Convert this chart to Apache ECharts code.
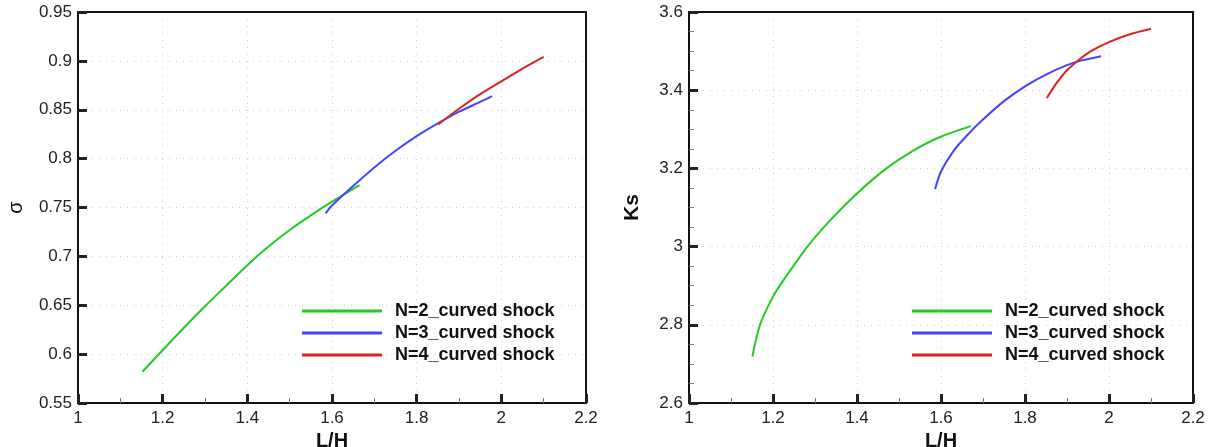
<!DOCTYPE html>
<html>
<head>
<meta charset="utf-8">
<script src="https://cdn.jsdelivr.net/npm/echarts@6/dist/echarts.min.js"></script>
<style>
html, body { margin: 0; padding: 0; background: #fff; }
#main { width: 1217px; height: 447px; }
</style>
</head>
<body>
<div id="main"></div>
<script>
// 图例名称
var seriesNames = ['N=2_curved shock', 'N=3_curved shock', 'N=4_curved shock'];
var seriesColors = ['#22cc22', '#4444ff', '#dd2222'];

// 左图 σ - L/H
var sigmaN2 = [[1.152, 0.582], [1.2, 0.604], [1.25, 0.627], [1.3, 0.649], [1.35, 0.670], [1.4, 0.691],
    [1.45, 0.710], [1.5, 0.727], [1.55, 0.742], [1.6, 0.756], [1.665, 0.773]];
var sigmaN3 = [[1.585, 0.744], [1.6, 0.752], [1.65, 0.772], [1.7, 0.791], [1.75, 0.808], [1.8, 0.823],
    [1.85, 0.836], [1.9, 0.848], [1.95, 0.858], [1.978, 0.864]];
var sigmaN4 = [[1.851, 0.835], [1.9, 0.851], [1.95, 0.866], [2.0, 0.879], [2.05, 0.892], [2.1, 0.904]];

// 右图 Ks - L/H
var ksN2 = [[1.151, 2.719], [1.169, 2.800], [1.2, 2.872], [1.225, 2.914], [1.282, 3.000], [1.336, 3.067],
    [1.4, 3.136], [1.47, 3.200], [1.53, 3.243], [1.595, 3.279], [1.671, 3.308]];
var ksN3 = [[1.586, 3.147], [1.6, 3.192], [1.63, 3.245], [1.666, 3.289], [1.7, 3.325], [1.75, 3.372],
    [1.8, 3.410], [1.85, 3.440], [1.9, 3.464], [1.931, 3.475], [1.981, 3.487]];
var ksN4 = [[1.852, 3.380], [1.875, 3.418], [1.9, 3.451], [1.931, 3.480], [1.957, 3.500], [2.0, 3.523],
    [2.05, 3.543], [2.1, 3.557]];

var chart = echarts.init(document.getElementById('main'));
var fontName = 'Liberation Sans';

function xAxisOf(idx) {
    return {
        gridIndex: idx, type: 'value', min: 1, max: 2.2, interval: 0.2,
        name: 'L/H', nameLocation: 'middle', nameGap: 25,
        nameTextStyle: { fontFamily: fontName, fontSize: 20, fontWeight: 'bold', color: '#111' },
        axisLine: { show: true, lineStyle: { color: '#111', width: 2 } },
        axisTick: { show: true, inside: true, length: 9, lineStyle: { color: '#222', width: 3 } },
        minorTick: { show: true, splitNumber: 2, length: 5, lineStyle: { color: '#777', width: 1 } },
        axisLabel: { fontFamily: fontName, fontSize: 17, color: '#222', margin: 7 },
        splitLine: { show: true, lineStyle: { color: '#ccc', type: [1, 6] } }
    };
}

function yAxisOf(idx, min, max, interval, name, nameStyle, gap, minor) {
    return {
        gridIndex: idx, type: 'value', min: min, max: max, interval: interval,
        name: name, nameLocation: 'middle', nameGap: gap, nameRotate: 90,
        nameTextStyle: nameStyle,
        axisLine: { show: true, lineStyle: { color: '#111', width: 2 } },
        axisTick: { show: true, inside: true, length: 9, lineStyle: { color: '#222', width: 3 } },
        minorTick: { show: minor, splitNumber: 4, length: 5, lineStyle: { color: '#777', width: 1 } },
        axisLabel: { fontFamily: fontName, fontSize: 17, color: '#222', margin: 6 },
        splitLine: { show: true, lineStyle: { color: '#ccc', type: [1, 6] } }
    };
}

// 上边框 / 右边框
function frameAxis(idx, pos, min, max) {
    return {
        gridIndex: idx, type: 'value', position: pos, min: min, max: max,
        axisLine: { show: true, onZero: false, lineStyle: { color: '#111', width: 2 } },
        axisTick: { show: false }, axisLabel: { show: false }, splitLine: { show: false }
    };
}

function lineOf(name, data, idx, color) {
    return {
        name: name, type: 'line', data: data, xAxisIndex: idx, yAxisIndex: idx,
        smooth: 0.3, showSymbol: false, symbol: 'none',
        lineStyle: { color: color, width: 2 }, itemStyle: { color: color }
    };
}

function legendOf(left) {
    return {
        data: seriesNames, orient: 'vertical', left: left, top: 297,
        icon: 'rect', itemWidth: 80, itemHeight: 3, itemGap: 4,
        textStyle: { fontFamily: fontName, fontSize: 18, fontWeight: 'bold', color: '#111',
            padding: [0, 0, 0, 8], lineHeight: 18 }
    };
}

var option = {
    animation: false,
    backgroundColor: '#fff',
    legend: [legendOf(297), legendOf(907)],
    grid: [
        { left: 78, top: 12, width: 508, height: 391, outerBoundsMode: 'none' },
        { left: 689, top: 12, width: 504, height: 391, outerBoundsMode: 'none' }
    ],
    xAxis: [xAxisOf(0), xAxisOf(1), frameAxis(0, 'top', 1, 2.2), frameAxis(1, 'top', 1, 2.2)],
    yAxis: [
        yAxisOf(0, 0.55, 0.95, 0.05, 'σ', { fontFamily: fontName, fontSize: 20, color: '#111' }, 52, false),
        yAxisOf(1, 2.6, 3.6, 0.2, 'Ks', { fontFamily: fontName, fontSize: 21, fontWeight: 'bold', color: '#111' }, 46, true),
        frameAxis(0, 'right', 0.55, 0.95),
        frameAxis(1, 'right', 2.6, 3.6)
    ],
    series: [
        lineOf(seriesNames[0], sigmaN2, 0, seriesColors[0]),
        lineOf(seriesNames[1], sigmaN3, 0, seriesColors[1]),
        lineOf(seriesNames[2], sigmaN4, 0, seriesColors[2]),
        lineOf(seriesNames[0], ksN2, 1, seriesColors[0]),
        lineOf(seriesNames[1], ksN3, 1, seriesColors[1]),
        lineOf(seriesNames[2], ksN4, 1, seriesColors[2])
    ]
};
chart.setOption(option);
</script>
</body>
</html>
